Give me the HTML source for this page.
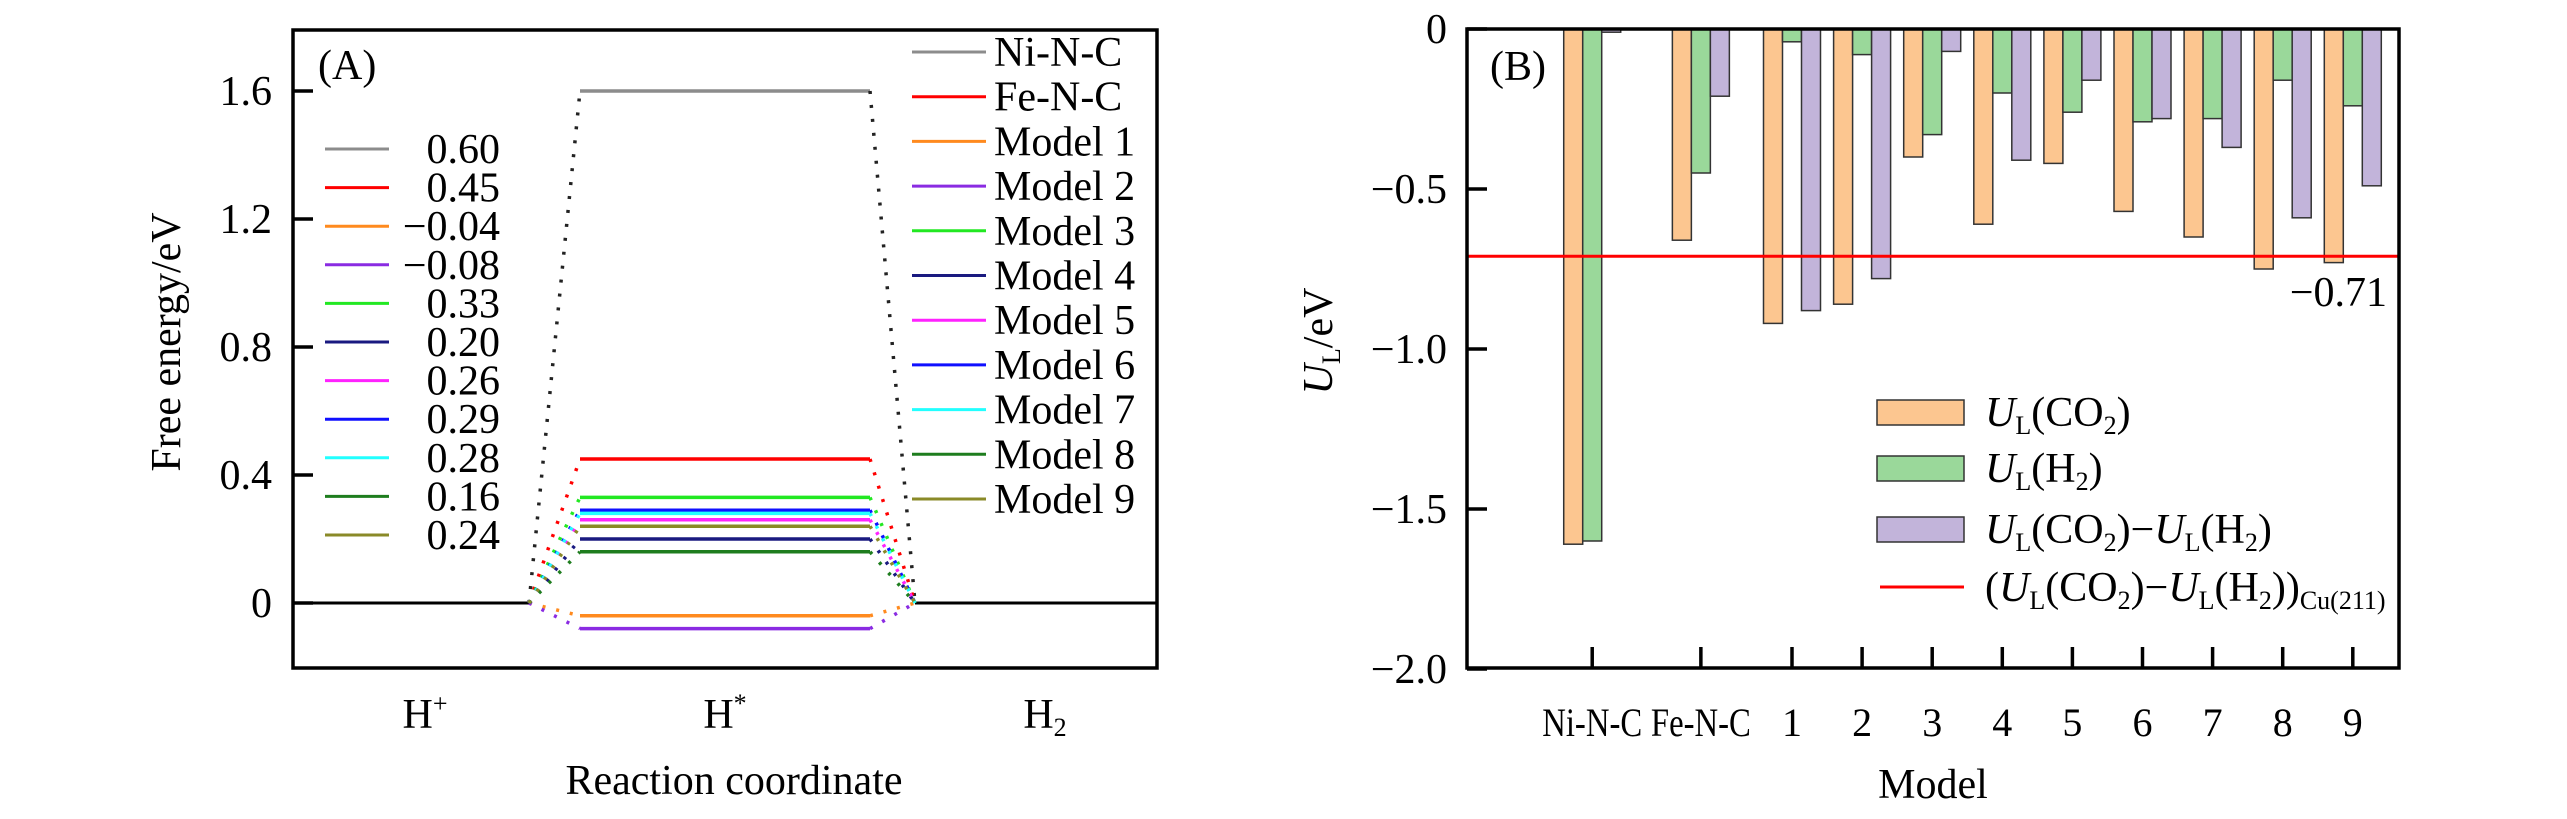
<!DOCTYPE html>
<html><head><meta charset="utf-8">
<style>
html,body{margin:0;padding:0;background:#fff;}
svg{display:block;font-family:"Liberation Serif",serif;}
</style></head>
<body>
<svg id="fig" width="2567" height="819" viewBox="0 0 2567 819" xmlns="http://www.w3.org/2000/svg">
<rect width="2567" height="819" fill="#fff"/>
<g id="panelA"></g>
<g id="panelB"></g>
</svg>
<script>
// ---- Panel A data ----
const seriesA = ["Ni-N-C","Fe-N-C","Model 1","Model 2","Model 3","Model 4","Model 5","Model 6","Model 7","Model 8","Model 9"];
const energyA = [1.60,0.45,-0.04,-0.08,0.33,0.20,0.26,0.29,0.28,0.16,0.24];
const legendValsA = ["0.60","0.45","\u22120.04","\u22120.08","0.33","0.20","0.26","0.29","0.28","0.16","0.24"];
const yTicksA = [0,0.4,0.8,1.2,1.6];
const yTickLabelsA = ["0","0.4","0.8","1.2","1.6"];
const stepsA = ["H+","H*","H2"];
const colorsA = ["#8c8c8c","#ff0000","#ff8a1e","#8a2be2","#22e822","#1a1a80","#ff22ff","#1010ff","#22ffff","#1e7d1e","#8a8a28"];
const dotColorsA = ["#222222","#ff0000","#ff8a1e","#8a2be2","#22e822","#1a1a80","#ff22ff","#1010ff","#22ffff","#1e7d1e","#8a8a28"];

// ---- Panel B data ----
const categoriesB = ["Ni-N-C","Fe-N-C","1","2","3","4","5","6","7","8","9"];
const catPosB = [-1.85,-0.3,1,2,3,4,5,6,7,8,9];
const ulCO2 = [-1.61,-0.66,-0.92,-0.86,-0.40,-0.61,-0.42,-0.57,-0.65,-0.75,-0.73];
const ulH2 = [-1.60,-0.45,-0.04,-0.08,-0.33,-0.20,-0.26,-0.29,-0.28,-0.16,-0.24];
const ulDiff = [-0.01,-0.21,-0.88,-0.78,-0.07,-0.41,-0.16,-0.28,-0.37,-0.59,-0.49];
const refLineB = [-0.71];
const yTicksB = [0,-0.5,-1.0,-1.5,-2.0];
const yTickLabelsB = ["0","\u22120.5","\u22121.0","\u22121.5","\u22122.0"];

const NS="http://www.w3.org/2000/svg";
function mk(parent,tag,attrs,text){const e=document.createElementNS(NS,tag);for(const k in attrs)e.setAttribute(k,attrs[k]);if(text!==undefined)e.textContent=text;parent.appendChild(e);return e;}

// ===== Panel A =====
const A=document.getElementById('panelA');
const aL=293,aR=1157,aT=30,aB=668;
const yA=v=>603-(v)*320;
const xLeftEnd=529,xMidStart=580,xMidEnd=870,xRightStart=915;
let e;
e=mk(A,'line',{x1:aL,y1:yA(0),x2:xLeftEnd,y2:yA(0),stroke:'#000','stroke-width':3});


e=mk(A,'line',{x1:xRightStart,y1:yA(0),x2:aR,y2:yA(0),stroke:'#000','stroke-width':3});


energyA.forEach((v,i)=>{
  const g=mk(A,'g',{});
  
  
  mk(g,'line',{x1:xLeftEnd,y1:yA(0),x2:xMidStart,y2:yA(v),stroke:dotColorsA[i],'stroke-width':3.5,'stroke-dasharray':'3 11'});
  mk(g,'line',{x1:xMidStart,y1:yA(v),x2:xMidEnd,y2:yA(v),stroke:colorsA[i],'stroke-width':3.5});
  mk(g,'line',{x1:xMidEnd,y1:yA(v),x2:xRightStart,y2:yA(0),stroke:dotColorsA[i],'stroke-width':3.5,'stroke-dasharray':'3 11'});
});
e=mk(A,'rect',{x:aL,y:aT,width:aR-aL,height:aB-aT,fill:'none',stroke:'#000','stroke-width':3.5});


yTicksA.forEach((t,i)=>{
  mk(A,'line',{x1:aL,y1:yA(t),x2:aL+20,y2:yA(t),stroke:'#000','stroke-width':3.5});
  e=mk(A,'text',{x:272,y:yA(t)+14,'text-anchor':'end','font-size':42},yTickLabelsA[i]);
  
  
});
const stepX=[425,725,1045];
e=mk(A,'text',{x:stepX[0],y:728,'text-anchor':'middle','font-size':42});
e.innerHTML='H<tspan dy="-16" font-size="26">+</tspan>';


e=mk(A,'text',{x:stepX[1],y:728,'text-anchor':'middle','font-size':42});
e.innerHTML='H<tspan dy="-16" font-size="26">*</tspan>';


e=mk(A,'text',{x:stepX[2],y:728,'text-anchor':'middle','font-size':42});
e.innerHTML='H<tspan dy="8" font-size="26">2</tspan>';


e=mk(A,'text',{x:734,y:794,'text-anchor':'middle','font-size':42},'Reaction coordinate');


e=mk(A,'text',{x:0,y:0,'text-anchor':'middle','font-size':42,transform:'translate(180,342) rotate(-90)'},'Free energy/eV');


e=mk(A,'text',{x:318,y:79,'font-size':42},'(A)');


legendValsA.forEach((s,i)=>{
  const y=149+i*38.6;
  const g=mk(A,'g',{});
  
  
  mk(g,'line',{x1:325,y1:y,x2:389,y2:y,stroke:colorsA[i],'stroke-width':3});
  mk(g,'text',{x:500,y:y+14,'text-anchor':'end','font-size':42},s);
});
seriesA.forEach((s,i)=>{
  const y=52+i*44.7;
  const g=mk(A,'g',{});
  
  
  mk(g,'line',{x1:912,y1:y,x2:986,y2:y,stroke:colorsA[i],'stroke-width':3});
  mk(g,'text',{x:994,y:y+14,'font-size':42},s);
});

// ===== Panel B =====
const B=document.getElementById('panelB');
const bL=1467,bR=2399,bT=29,bB=668;
const yB=v=>bT-(v)*320;
const xB=p=>1792+(p-1)*70.1;
const bw=19;
const barSets=[[ulCO2,'#fcc690','bar-ul-co2'],[ulH2,'#9ad89a','bar-ul-h2'],[ulDiff,'#c2b4da','bar-ul-diff']];
barSets.forEach((set,si)=>{
  set[0].forEach((v,i)=>{
    const cx=xB(catPosB[i])+(si-1)*bw;
    e=mk(B,'rect',{x:cx-bw/2,y:yB(0),width:bw,height:Math.max(1,yB(v)-yB(0)),fill:set[1],stroke:'#333','stroke-width':1.5});
    
    
  });
});
e=mk(B,'line',{x1:bL,y1:yB(refLineB[0]),x2:bR,y2:yB(refLineB[0]),stroke:'#ff0000','stroke-width':3});


e=mk(B,'text',{x:2387,y:yB(refLineB[0])+50,'text-anchor':'end','font-size':42},'\u22120.71');


e=mk(B,'rect',{x:bL,y:bT,width:bR-bL,height:bB-bT,fill:'none',stroke:'#000','stroke-width':3.5});


yTicksB.forEach((t,i)=>{
  mk(B,'line',{x1:bL,y1:yB(t),x2:bL+20,y2:yB(t),stroke:'#000','stroke-width':3.5});
  e=mk(B,'text',{x:1447,y:yB(t)+14,'text-anchor':'end','font-size':42},yTickLabelsB[i]);
  
  
});
categoriesB.forEach((c,i)=>{
  const x=xB(catPosB[i]);
  mk(B,'line',{x1:x,y1:bB,x2:x,y2:bB-21,stroke:'#000','stroke-width':3.5});
  const attrs={x:x,y:736,'text-anchor':'middle','font-size':40};
  if(c.length>2){attrs.textLength=100;attrs.lengthAdjust='spacingAndGlyphs';}
  e=mk(B,'text',attrs,c);
  
  
});
e=mk(B,'text',{x:1933,y:798,'text-anchor':'middle','font-size':42},'Model');


e=mk(B,'text',{x:0,y:0,'text-anchor':'middle','font-size':42,transform:'translate(1332,341) rotate(-90)'});
e.innerHTML='<tspan font-style="italic">U</tspan><tspan font-size="26" dy="8">L</tspan><tspan dy="-8">/eV</tspan>';


e=mk(B,'text',{x:1490,y:80,'font-size':42},'(B)');


const U='<tspan font-style="italic">U</tspan><tspan font-size="26" dy="8">L</tspan><tspan dy="-8">';
const sub2='<tspan font-size="26" dy="8">2</tspan><tspan dy="-8">';
const legB=[
 ['#fcc690','rect',U+'(CO</tspan>'+sub2+')</tspan>',412],
 ['#9ad89a','rect',U+'(H</tspan>'+sub2+')</tspan>',468],
 ['#c2b4da','rect',U+'(CO</tspan>'+sub2+')\u2212</tspan>'+U+'(H</tspan>'+sub2+')</tspan>',529],
 ['#ff0000','line','<tspan>(</tspan>'+U+'(CO</tspan>'+sub2+')\u2212</tspan>'+U+'(H</tspan>'+sub2+'))</tspan><tspan font-size="26" dy="8">Cu(211)</tspan>',587]
];
legB.forEach(L=>{
  const g=mk(B,'g',{});
  
  
  if(L[1]==='rect') mk(g,'rect',{x:1877,y:L[3]-12,width:87,height:25,fill:L[0],stroke:'#333','stroke-width':1.5});
  else mk(g,'line',{x1:1880,y1:L[3],x2:1964,y2:L[3],stroke:L[0],'stroke-width':3});
  const t=mk(g,'text',{x:1985,y:L[3]+14,'font-size':42});
  t.innerHTML=L[2];
});
</script>
</body></html>
